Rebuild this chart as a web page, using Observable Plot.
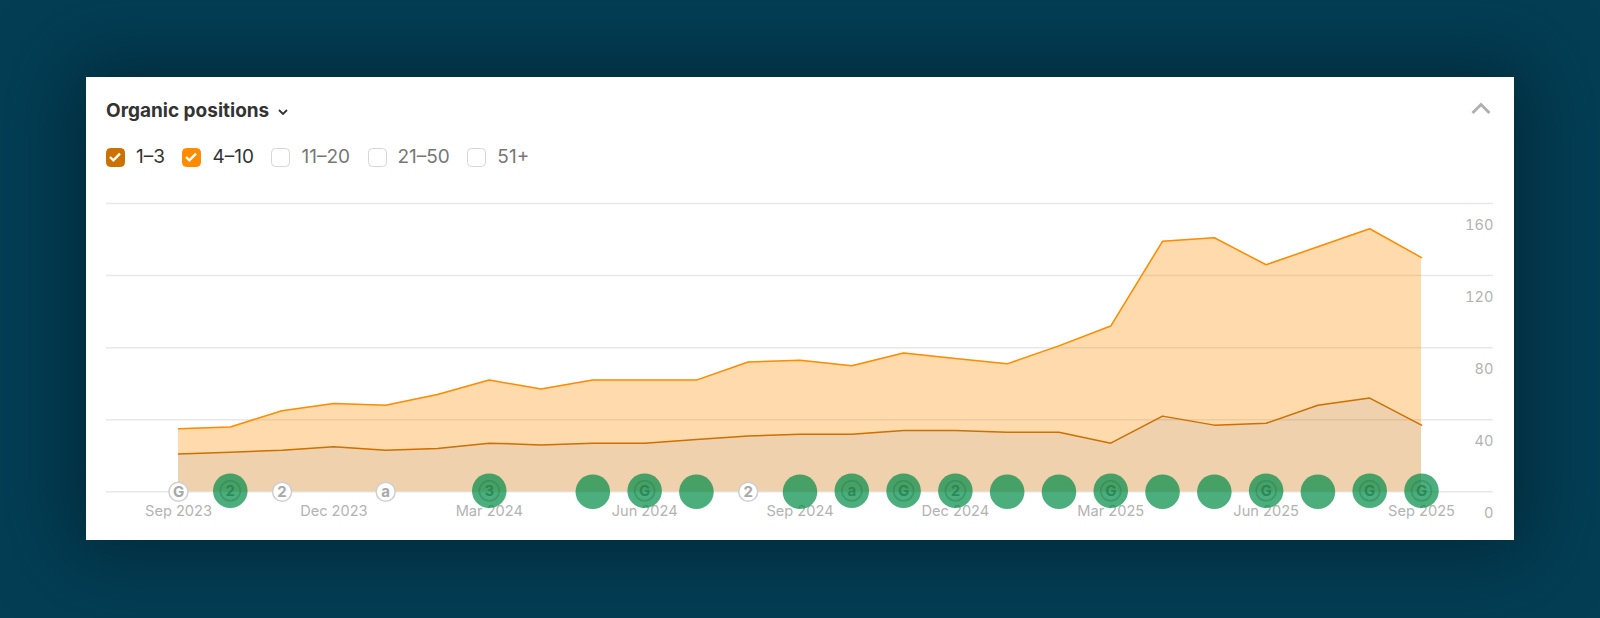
<!DOCTYPE html>
<html>
<head>
<meta charset="utf-8">
<script src="https://cdn.jsdelivr.net/npm/d3@7"></script>
<script src="https://cdn.jsdelivr.net/npm/@observablehq/plot@0.6"></script>
<style>
  html, body { margin: 0; height: 100%; background: #033e55; overflow: hidden; font-family: Inter, sans-serif; }
  #card { position: absolute; left: 86px; top: 77px; width: 1428px; height: 463px; background: #fff; box-shadow: 0 0 70px 14px rgba(1, 30, 42, .65); }
  #title { position: absolute; left: 20px; top: 19.5px; font-size: 19px; line-height: 28px; font-weight: 700; color: #333; white-space: nowrap; }
  #title svg { margin-left: 8px; vertical-align: 1px; }
  #collapse { position: absolute; left: 1384px; top: 23px; }
  #legend { position: absolute; left: 20px; top: 70px; display: flex; gap: 17.5px; font-size: 19px; line-height: 20px; }
  .item { display: flex; align-items: center; gap: 11px; }
  .box { width: 19px; height: 19px; box-sizing: border-box; border-radius: 4.5px; border: 1.5px solid #d6d6d6; display: block; }
  #chart { position: absolute; left: 0; top: 112px; }
  #chart svg { display: block; }
</style>
</head>
<body>
<div id="card">
  <div id="title">Organic positions<svg width="12" height="8" viewBox="0 0 12 8"><path d="M2 2l4 4 4-4" fill="none" stroke="#333" stroke-width="1.8"/></svg></div>
  <svg id="collapse" width="22" height="16" viewBox="0 0 22 16"><path d="M2.5 13L11 4.5 19.5 13" fill="none" stroke="#b0b0b0" stroke-width="3"/></svg>
  <div id="legend"></div>
  <div id="chart"></div>
</div>
<script>
const months = ["2023-09","2023-10","2023-11","2023-12","2024-01","2024-02","2024-03","2024-04","2024-05","2024-06","2024-07","2024-08","2024-09","2024-10","2024-11","2024-12","2025-01","2025-02","2025-03","2025-04","2025-05","2025-06","2025-07","2025-08","2025-09"]
const top3 = [21,22,23,25,23,24,27,26,27,27,29,31,32,32,34,34,33,33,27,42,37,38,48,52,37]
const top10 = [14,14,22,24,25,30,35,31,35,35,33,41,41,38,43,40,38,48,65,97,104,88,88,94,93]
const noteKinds = ["small","big","small",null,"small",null,"big",null,"big","big","big","small","big","big","big","big","big","big","big","big","big","big","big","big","big"]
const noteGlyphs = ["G","2","2","","a","","3","","","G","","2","","a","G","2","","","G","","","G","","G","G"]
const xTicks = ["2023-09","2023-12","2024-03","2024-06","2024-09","2024-12","2025-03","2025-06","2025-09"]
const yTicks = [0,40,80,120,160]
const legendLabels = ["1–3","4–10","11–20","21–50","51+"]
const legendColors = ["#cc7000","#ff8c00",null,null,null]

const parseMonth = d3.utcParse("%Y-%m")
const formatMonth = d3.utcFormat("%b %Y")

// filas largas para que Plot apile las dos series
const positions = [
  ...months.map((month, i) => ({month, group: "1–3", value: top3[i]})),
  ...months.map((month, i) => ({month, group: "4–10", value: top10[i]}))
]
const notes = months.map((month, i) => ({month, kind: noteKinds[i], glyph: noteGlyphs[i]})).filter(d => d.kind)
const smallNotes = notes.filter(d => d.kind == "small")
const plainBig = notes.filter(d => d.kind == "big" && !d.glyph)
const glyphBig = notes.filter(d => d.kind == "big" && d.glyph)

const legend = d3.select("#legend")
legendLabels.forEach((label, i) => {
  const color = legendColors[i]
  const item = legend.append("div").attr("class", "item").style("color", color ? "#333" : "#777")
  const box = item.append("span").attr("class", "box")
  if (color) {
    box.style("background", color).style("border-color", color)
    box.html('<svg width="16" height="16" viewBox="0 0 16 16"><path d="M3 8l3.4 3.4L13 4.6" fill="none" stroke="#fff" stroke-width="2.4"/></svg>')
  }
  item.append("span").style("font-weight", 400).text(label)
})

const chart = Plot.plot({
  width: 1428,
  height: 351,
  marginTop: 14,
  marginBottom: 48.7,
  marginLeft: 92,
  marginRight: 93,
  style: {fontFamily: "Inter, sans-serif", fontSize: "14.6px", background: "transparent"},
  x: {type: "point", domain: months, padding: 0, round: false},
  y: {domain: [0, 160]},
  color: {domain: ["1–3", "4–10"], range: ["#cc7000", "#ff8c00"]},
  marks: [
    Plot.ruleY(yTicks, {stroke: "#e8e8e8", strokeWidth: 1.5, insetLeft: -72, insetRight: -72}),
    Plot.areaY(positions, {x: "month", y: "value", z: "group", fill: "group", fillOpacity: 0.32}),
    Plot.lineY(positions, Plot.stackY2({x: "month", y: "value", z: "group", stroke: "group", strokeWidth: 1.5})),
    Plot.axisX({
      ticks: xTicks, tickFormat: d => formatMonth(parseMonth(d)),
      tickSize: 0, tickPadding: 14, color: "#b3b3b3", label: null
    }),
    Plot.axisY({
      ticks: yTicks, anchor: "right", tickSize: 0, tickPadding: 0,
      dx: 72, dy: 22, textAnchor: "end", color: "#b3b3b3", label: null
    }),
    // iconos pequeños
    Plot.dot(smallNotes, {x: "month", y: () => 0, r: 9.5, fill: "#fff", stroke: "#cfcfcf", strokeWidth: 1.5}),
    Plot.text(smallNotes, {x: "month", y: () => 0, text: "glyph", fill: "#a8a8a8", fontWeight: 700, fontSize: 15}),
    // círculos verdes
    Plot.dot(plainBig, {x: "month", y: () => 0, r: 17.3, fill: "#008c46", fillOpacity: 0.7}),
    Plot.dot(glyphBig, {x: "month", y: () => 0, dy: -1, r: 17.3, fill: "#008c46", fillOpacity: 0.7}),
    Plot.dot(glyphBig, {x: "month", y: () => 0, dy: -1, r: 10, stroke: "#1d7a4a", strokeOpacity: 0.4, strokeWidth: 1.5}),
    Plot.text(glyphBig, {x: "month", y: () => 0, dy: -1, text: "glyph", fill: "#1d7a4a", fillOpacity: 0.7, fontWeight: 700, fontSize: 15})
  ]
})

d3.select("#chart").append(() => chart)
</script>
</body>
</html>
